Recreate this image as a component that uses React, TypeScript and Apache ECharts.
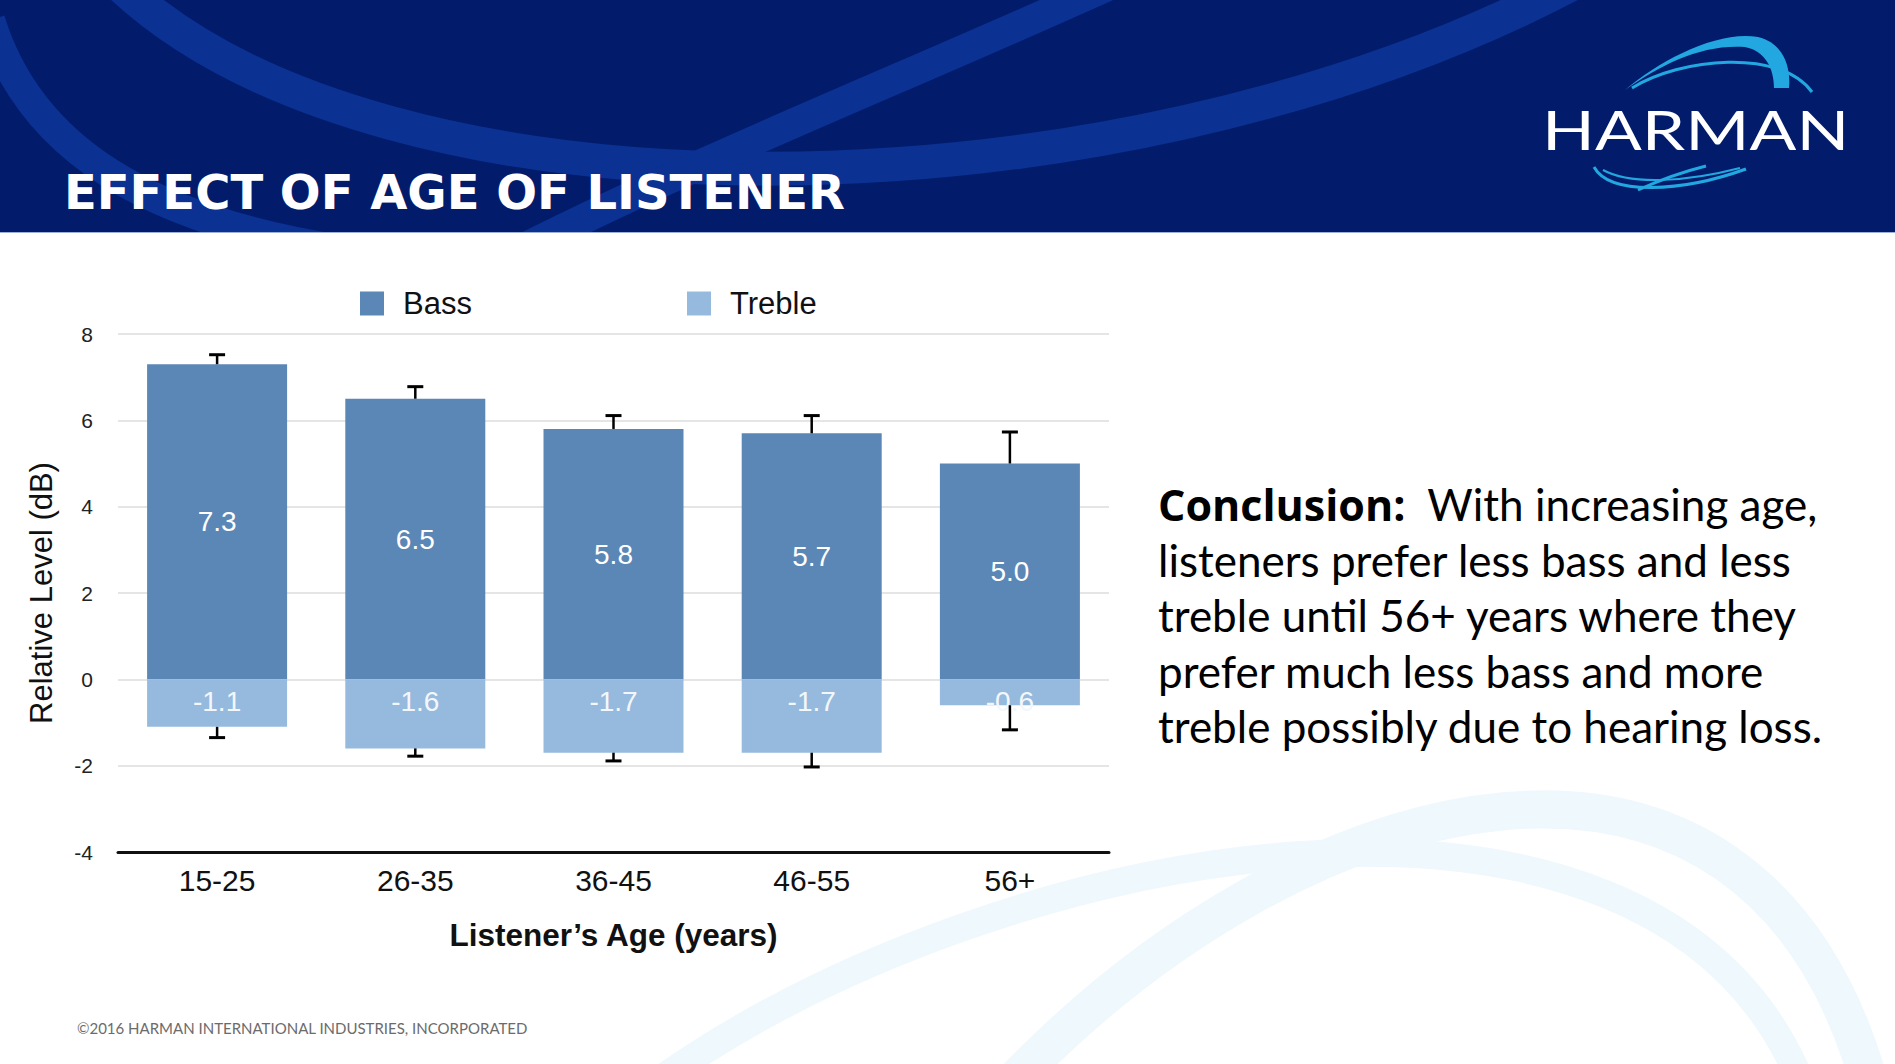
import React, { useEffect, useRef } from "react";
import * as echarts from "echarts";

const categories = ["15-25", "26-35", "36-45", "46-55", "56+"];
const bassValues = [7.3, 6.5, 5.8, 5.7, 5.0];
const trebleValues = [-1.1, -1.6, -1.7, -1.7, -0.6];
const bassErrorTop = [7.52, 6.78, 6.11, 6.11, 5.73];
const trebleErrorBottom = [-1.35, -1.78, -1.89, -2.03, -1.17];
const yTicks = [-4, -2, 0, 2, 4, 6, 8];
const seriesNames = ["Bass", "Treble"];
const titleText = "EFFECT OF AGE OF LISTENER";
const conclusionLines = [
  "{b|Conclusion:}  With increasing age,",
  "listeners prefer less bass and less",
  "treble until 56+ years where they",
  "prefer much less bass and more",
  "treble possibly due to hearing loss.",
];
const copyrightText = "©2016 HARMAN INTERNATIONAL INDUSTRIES, INCORPORATED";

const BASS_COLOR = "#5b87b6";
const TREBLE_COLOR = "#96badd";
const SANS = '"Liberation Sans", Arial, sans-serif';

let registered = false;
function registerShapes() {
  if (registered) return;
  registered = true;
  const crescent =
    "M1625 90 C1660 60 1718 30 1758 37 C1784 43 1791 68 1789 88 L1774 88 C1774 68 1765 51 1745 47 C1702 44 1662 64 1625 90 Z";
  echarts.graphic.registerShape("harmanArc", echarts.graphic.extendPath(crescent, {}));
}

export default function App() {
  const ref = useRef<HTMLDivElement>(null);

  useEffect(() => {
    if (!ref.current) return;
    registerShapes();
    const chart = echarts.init(ref.current, null, { renderer: "svg" });

    const errorRender = (params: any, api: any) => {
      const i = api.value(0);
      const base = api.coord([i, api.value(1)]);
      const end = api.coord([i, api.value(2)]);
      const half = 8;
      return {
        type: "group",
        children: [
          {
            type: "line",
            shape: { x1: base[0], y1: base[1], x2: end[0], y2: end[1] },
            style: { stroke: "#000", lineWidth: 2.5 },
          },
          {
            type: "line",
            shape: { x1: end[0] - half, y1: end[1], x2: end[0] + half, y2: end[1] },
            style: { stroke: "#000", lineWidth: 3 },
          },
        ],
      };
    };

    const graphics: any[] = [
      { type: "rect", z: -5, shape: { x: 0, y: 0, width: 1895, height: 233 }, style: { fill: "#021c6b" } },
      {
        type: "bezierCurve", z: -4,
        shape: { x1: 120, y1: -15, cpx1: 380, cpy1: 230, cpx2: 1100, cpy2: 230, x2: 1570, y2: -15 },
        style: { stroke: "#0b3193", lineWidth: 34, fill: "none" },
      },
      {
        type: "bezierCurve", z: -4,
        shape: { x1: 1110, y1: -15, cpx1: 900, cpy1: 80, cpx2: 720, cpy2: 150, x2: 520, y2: 250 },
        style: { stroke: "#0b3193", lineWidth: 30, fill: "none" },
      },
      {
        type: "bezierCurve", z: -4,
        shape: { x1: -10, y1: 20, cpx1: 30, cpy1: 150, cpx2: 150, cpy2: 220, x2: 340, y2: 250 },
        style: { stroke: "#0b3193", lineWidth: 30, fill: "none" },
      },
      { type: "rect", z: -3, shape: { x: 0, y: 233, width: 1895, height: 831 }, style: { fill: "#ffffff" } },
      { type: "rect", z: -3, shape: { x: 0, y: 232, width: 1895, height: 1 }, style: { fill: "#9fb0d6" } },
      {
        type: "bezierCurve", z: -2,
        shape: { x1: 660, y1: 1080, cpx1: 1000, cpy1: 840, cpx2: 1650, cpy2: 720, x2: 1800, y2: 1080 },
        style: { stroke: "#eff8fd", lineWidth: 28, fill: "none" },
      },
      {
        type: "bezierCurve", z: -2,
        shape: { x1: 1010, y1: 1085, cpx1: 1300, cpy1: 780, cpx2: 1750, cpy2: 660, x2: 1870, y2: 1085 },
        style: { stroke: "#eff8fd", lineWidth: 38, fill: "none" },
      },
      {
        type: "text", z: 5, x: 64, y: 192,
        style: { text: titleText, fill: "#ffffff", fontSize: 48, fontWeight: "bold", fontFamily: '"DejaVu Sans"', verticalAlign: "middle", align: "left" },
      },
      {
        type: "text", z: 5, x: 1542, y: 128, scaleX: 1.26,
        style: { text: "HARMAN", fill: "#ffffff", fontSize: 55, fontFamily: "Lato", verticalAlign: "middle", align: "left" },
      },
      { type: "harmanArc", z: 5, x: 0, y: 0, style: { fill: "#22a7e0" } },
      {
        type: "bezierCurve", z: 5,
        shape: { x1: 1632, y1: 88, cpx1: 1680, cpy1: 58, cpx2: 1780, cpy2: 48, x2: 1812, y2: 92 },
        style: { stroke: "#22a7e0", lineWidth: 3, fill: "none" },
      },
      {
        type: "bezierCurve", z: 5,
        shape: { x1: 1594, y1: 167, cpx1: 1610, cpy1: 196, cpx2: 1682, cpy2: 192, x2: 1746, y2: 169 },
        style: { stroke: "#22a7e0", lineWidth: 3, fill: "none" },
      },
      {
        type: "bezierCurve", z: 5,
        shape: { x1: 1603, y1: 170, cpx1: 1632, cpy1: 186, cpx2: 1690, cpy2: 181, x2: 1740, y2: 168 },
        style: { stroke: "#22a7e0", lineWidth: 2, fill: "none" },
      },
      {
        type: "bezierCurve", z: 5,
        shape: { x1: 1638, y1: 190, cpx1: 1660, cpy1: 180, cpx2: 1682, cpy2: 172, x2: 1706, y2: 166 },
        style: { stroke: "#22a7e0", lineWidth: 3, fill: "none" },
      },
      ...conclusionLines.map((line, i) => ({
        type: "text", z: 5, x: 1158, y: 504 + i * 55.5,
        style: {
          text: line, fill: "#000000", fontSize: 44, fontFamily: "Lato", verticalAlign: "middle", align: "left",
          rich: { b: { fontWeight: "bold", fontSize: 43, fontFamily: '"Open Sans"', fill: "#000000" } },
        },
      })),
      {
        type: "text", z: 5, x: 77, y: 1028,
        style: { text: copyrightText, fill: "#6b6b6b", fontSize: 15, fontFamily: "Lato", verticalAlign: "middle", align: "left" },
      },
    ];

    const legendCommon = {
      padding: 0,
      itemWidth: 24,
      itemHeight: 24,
      icon: "rect",
      top: 288,
      textStyle: { fontSize: 31, color: "#111", fontFamily: SANS, padding: [0, 0, 0, 14] },
    };

    chart.setOption({
      animation: false,
      backgroundColor: "transparent",
      graphic: { elements: graphics },
      legend: [
        { ...legendCommon, data: [seriesNames[0]], left: 360 },
        { ...legendCommon, data: [seriesNames[1]], left: 687 },
      ],
      grid: { left: 118, right: 786, top: 334, bottom: 212, containLabel: false },
      xAxis: {
        type: "category",
        data: categories,
        axisLine: { onZero: false, lineStyle: { color: "#111", width: 3 } },
        axisTick: { show: false },
        axisLabel: { fontSize: 30, color: "#111", margin: 13, fontFamily: SANS },
        name: "Listener’s Age (years)",
        nameLocation: "middle",
        nameGap: 67,
        nameTextStyle: { fontSize: 31.5, fontWeight: "bold", color: "#111", fontFamily: SANS },
      },
      yAxis: {
        type: "value",
        min: yTicks[0],
        max: yTicks[yTicks.length - 1],
        interval: yTicks[1] - yTicks[0],
        axisLine: { show: false },
        axisTick: { show: false },
        axisLabel: { fontSize: 21, color: "#222", margin: 25, fontFamily: SANS },
        splitLine: { lineStyle: { color: "#dcdcdc", width: 1.5 } },
        name: "Relative Level (dB)",
        nameLocation: "middle",
        nameRotate: 90,
        nameGap: 61,
        nameTextStyle: { fontSize: 31, color: "#111", fontFamily: SANS },
      },
      series: [
        {
          name: seriesNames[0],
          type: "bar",
          data: bassValues,
          barWidth: 140,
          barGap: "-100%",
          itemStyle: { color: BASS_COLOR },
          label: {
            show: true, position: "inside", color: "#ffffff", fontSize: 28, fontFamily: SANS,
            formatter: (p: any) => Number(p.value).toFixed(1),
          },
          z: 3,
        },
        {
          name: seriesNames[1],
          type: "bar",
          data: trebleValues,
          barWidth: 140,
          barGap: "-100%",
          itemStyle: { color: TREBLE_COLOR },
          label: {
            show: true, position: "insideTop", distance: 8, color: "#f3f7fc", fontSize: 28, fontFamily: SANS,
            formatter: (p: any) => Number(p.value).toFixed(1),
          },
          z: 3,
        },
        {
          type: "custom",
          name: "bassErr",
          renderItem: errorRender,
          data: bassValues.map((v, i) => [i, v, bassErrorTop[i]]),
          encode: { x: 0, y: [1, 2] },
          silent: true,
          z: 10,
        },
        {
          type: "custom",
          name: "trebleErr",
          renderItem: errorRender,
          data: trebleValues.map((v, i) => [i, v, trebleErrorBottom[i]]),
          encode: { x: 0, y: [1, 2] },
          silent: true,
          z: 10,
        },
      ],
    });

    return () => chart.dispose();
  }, []);

  return (
    <div
      ref={ref}
      style={{ position: "absolute", left: 0, top: 0, width: 1895, height: 1064, background: "#ffffff" }}
    />
  );
}
